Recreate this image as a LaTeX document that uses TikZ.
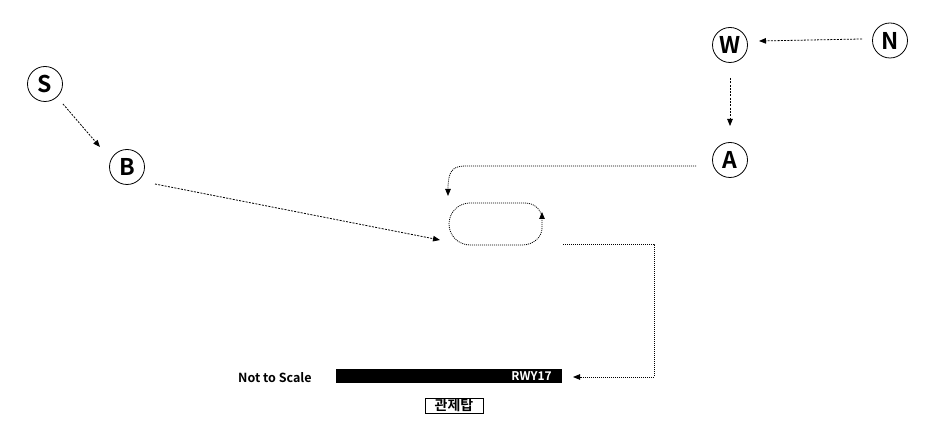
\documentclass[tikz,border=0pt]{standalone}
\usepackage{fontspec}
\setmainfont{Noto Sans CJK KR}[BoldFont={Noto Sans CJK KR Bold}]
\usetikzlibrary{arrows.meta,calc}
\tikzset{
  wp/.style={circle,draw,line width=0.8pt,minimum size=35pt,inner sep=0pt,font=\bfseries\fontsize{23}{23}\selectfont},
  dline/.style={line width=0.8pt,dash pattern=on 2pt off 1.3pt},
  fline/.style={line width=0.8pt,dash pattern=on 1pt off 1pt},
  tip/.style={-{Triangle[length=7pt,width=5.5pt]}},
  lbl/.style={font=\bfseries\fontsize{12.5}{12.5}\selectfont,inner sep=0pt}
}
\begin{document}
\begin{tikzpicture}[x=1pt,y=-1pt]
\useasboundingbox (0,0) rectangle (938,435);
\node[wp] (S) at (45,84) {S};
\node[wp] (B) at (127,167) {B};
\node[wp] (W) at (730,45) {W};
\node[wp] (N) at (890,40.5) {N};
\node[wp] (A) at (730,160) {A};
% runway
\node[fill=black,minimum width=226pt,minimum height=14pt,inner sep=0pt,anchor=north west] (rwy) at (336,369) {};
\node[lbl,text=white,anchor=east,font=\bfseries\fontsize{12}{12}\selectfont] (rwylbl) at (552,376) {RWY17};
\node[lbl,anchor=west] (nts) at (238,378) {Not to Scale};
\node[lbl,draw,line width=0.8pt,minimum width=58pt,minimum height=15pt,inner sep=0pt,font=\bfseries\fontsize{14}{14}\selectfont] (twr) at (454,405.5) {관제탑};
% coordinates
\coordinate (loopin) at (440,240);
\coordinate (loopout) at (563,244);
\coordinate (rwyin) at (573,377);
\coordinate (atop) at (448,196);
% connectors
\draw[dline,tip] ($(S.center)+(18,20)$) -- ($(B.center)+(-27,-20)$);
\draw[dline,tip] ($(B.center)+(28,17)$) -- (loopin);
\draw[dline,tip] ($(N.center)+(-28,-1.5)$) -- ($(W.center)+(29,-4)$);
\draw[dline,tip] ($(W.center)+(0,33)$) -- ($(A.center)+(0,-34)$);
\draw[fline,tip] ($(A.center)+(-34,6)$) -- (465,166) .. controls (452,166) and (448,172) .. (atop);
% loop
\draw[fline,tip] (542,216) .. controls (539,207) and (533,203) .. (524,203) -- (470,203)
  .. controls (458.4,203) and (449,212.4) .. (449,224)
  .. controls (449,235.6) and (458.4,245) .. (470,245) -- (522,245)
  .. controls (533.6,245) and (542,237) .. (542,228) -- (542,212);
\draw[fline,tip] (loopout) -- (654,244) -- (654,377) -- (rwyin);
\end{tikzpicture}
\end{document}
